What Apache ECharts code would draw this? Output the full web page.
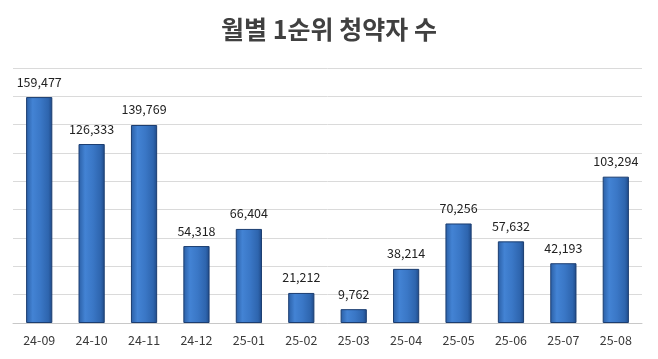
<!DOCTYPE html>
<html>
<head>
<meta charset="utf-8">
<script src="https://cdn.jsdelivr.net/npm/echarts@6/dist/echarts.min.js"></script>
<style>
html,body{margin:0;padding:0;background:#fff;}
#chart{width:658px;height:359px;}
</style>
</head>
<body>
<div id="chart"></div>
<script>
const titleText = '월별 1순위 청약자 수';
const categories = ['24-09','24-10','24-11','24-12','25-01','25-02','25-03','25-04','25-05','25-06','25-07','25-08'];
const applicants = [159477,126333,139769,54318,66404,21212,9762,38214,70256,57632,42193,103294];

const chart = echarts.init(document.getElementById('chart'), null, {renderer:'canvas'});
const font = '"Noto Sans CJK KR", "Noto Sans", sans-serif';
chart.setOption({
  animation: false,
  backgroundColor: '#ffffff',
  title: {
    text: titleText,
    left: 'center',
    top: 12,
    textStyle: {fontFamily: font, fontSize: 25, fontWeight: 'bold', color: '#404040'}
  },
  grid: {left: 13, right: 16, top: 68, bottom: 36, containLabel: false},
  xAxis: {
    type: 'category',
    data: categories,
    axisLine: {show: true, lineStyle: {color: '#c8c8c8', width: 1}},
    axisTick: {show: false},
    axisLabel: {fontFamily: font, fontSize: 12.5, color: '#3a3a3a', margin: 11}
  },
  yAxis: {
    type: 'value',
    min: 0,
    max: 180000,
    interval: 20000,
    axisLabel: {show: false},
    axisLine: {show: false},
    axisTick: {show: false},
    splitLine: {lineStyle: {color: '#dadada', width: 1}}
  },
  series: [{
    type: 'bar',
    data: applicants,
    barWidth: '50%',
    itemStyle: {
      color: new echarts.graphic.LinearGradient(0, 0, 1, 0, [
        {offset: 0, color: '#2a5ea4'},
        {offset: 0.25, color: '#4383d4'},
        {offset: 0.55, color: '#3a77c6'},
        {offset: 0.85, color: '#2e65ae'},
        {offset: 1, color: '#1f4986'}
      ]),
      borderColor: '#1b3d70',
      borderWidth: 1
    },
    label: {
      show: true,
      position: 'top',
      distance: 9,
      fontFamily: font,
      fontSize: 12.5,
      color: '#222222',
      formatter: p => p.value.toLocaleString('en-US')
    }
  }]
});
</script>
</body>
</html>
